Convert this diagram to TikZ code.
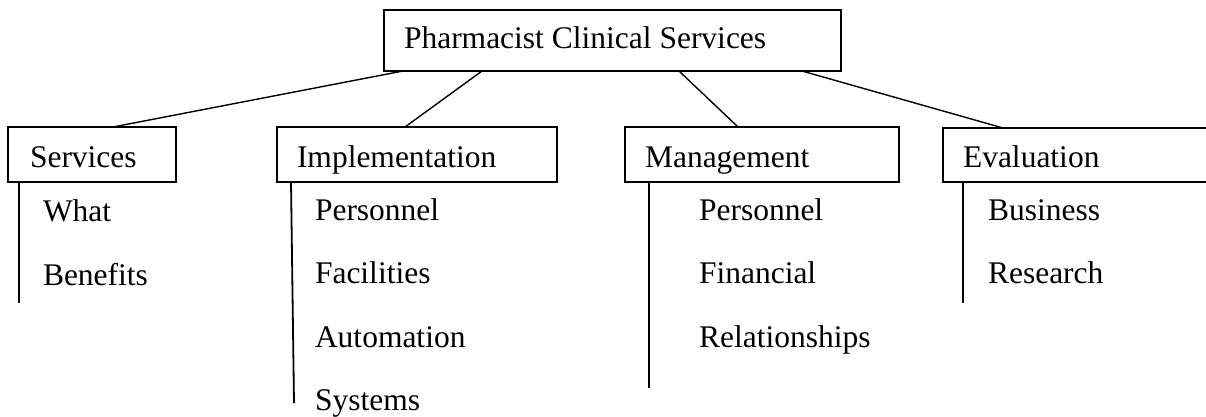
\documentclass[tikz,border=0pt]{standalone}
\usepackage{fontspec}
\setmainfont{Liberation Serif}
\begin{document}
\begin{tikzpicture}[x=1pt,y=-1pt,
  every node/.style={inner sep=0pt, outer sep=0pt},
  box/.style={draw, line width=1.6pt, anchor=north west},
  label/.style={anchor=base west, font=\fontsize{31.5}{38}\selectfont},
  link/.style={line width=1.4pt},
  stem/.style={line width=1.8pt}]
\useasboundingbox (0,0) rectangle (1206,417);
\clip (0,0) rectangle (1206,417);

% root box
\node[box, minimum width=457pt, minimum height=61pt] (root) at (384,10) {};
\node[label] (rootT) at (404,49) {Pharmacist Clinical Services};

% category boxes
\node[box, minimum width=168pt, minimum height=55pt] (serv) at (8,127) {};
\node[box, minimum width=280pt, minimum height=55pt] (impl) at (277,127) {};
\node[box, minimum width=274pt, minimum height=55pt] (mgmt) at (625,127) {};
\node[box, minimum width=290pt, minimum height=54pt] (eval) at (943,128) {};

\node[label] (servT) at (30,167) {Services};
\node[label] (implT) at (297,167) {Implementation};
\node[label] (mgmtT) at (645,167) {Management};
\node[label] (evalT) at (963,167) {Evaluation};

% items
\node[label] (s1) at (43,221) {What};
\node[label] (s2) at (43,285) {Benefits};

\node[label] (i1) at (315,220) {Personnel};
\node[label] (i2) at (315,283) {Facilities};
\node[label] (i3) at (315,347) {Automation};
\node[label] (i4) at (315,410) {Systems};

\node[label] (m1) at (699,220) {Personnel};
\node[label] (m2) at (699,283) {Financial};
\node[label] (m3) at (699,347) {Relationships};

\node[label] (e1) at (988,220) {Business};
\node[label] (e2) at (988,283) {Research};

% connectors from the root
\draw[link] ([xshift=19pt]root.south west) -- ([xshift=105pt]serv.north west);
\draw[link] ([xshift=98pt]root.south west) -- ([xshift=128pt]impl.north west);
\draw[link] ([xshift=295pt]root.south west) -- ([xshift=113pt]mgmt.north west);
\draw[link] ([xshift=418pt]root.south west) -- ([xshift=60pt]eval.north west);

% stems under each category
\coordinate (servEnd) at (19,303);
\coordinate (implEnd) at (294,403);
\coordinate (mgmtEnd) at (649,388);
\coordinate (evalEnd) at (963,303);
\draw[stem] ([xshift=11pt]serv.south west) -- (servEnd);
\draw[stem] ([xshift=14pt]impl.south west) -- (implEnd);
\draw[stem] ([xshift=24pt]mgmt.south west) -- (mgmtEnd);
\draw[stem] ([xshift=20pt]eval.south west) -- (evalEnd);
\end{tikzpicture}
\end{document}
